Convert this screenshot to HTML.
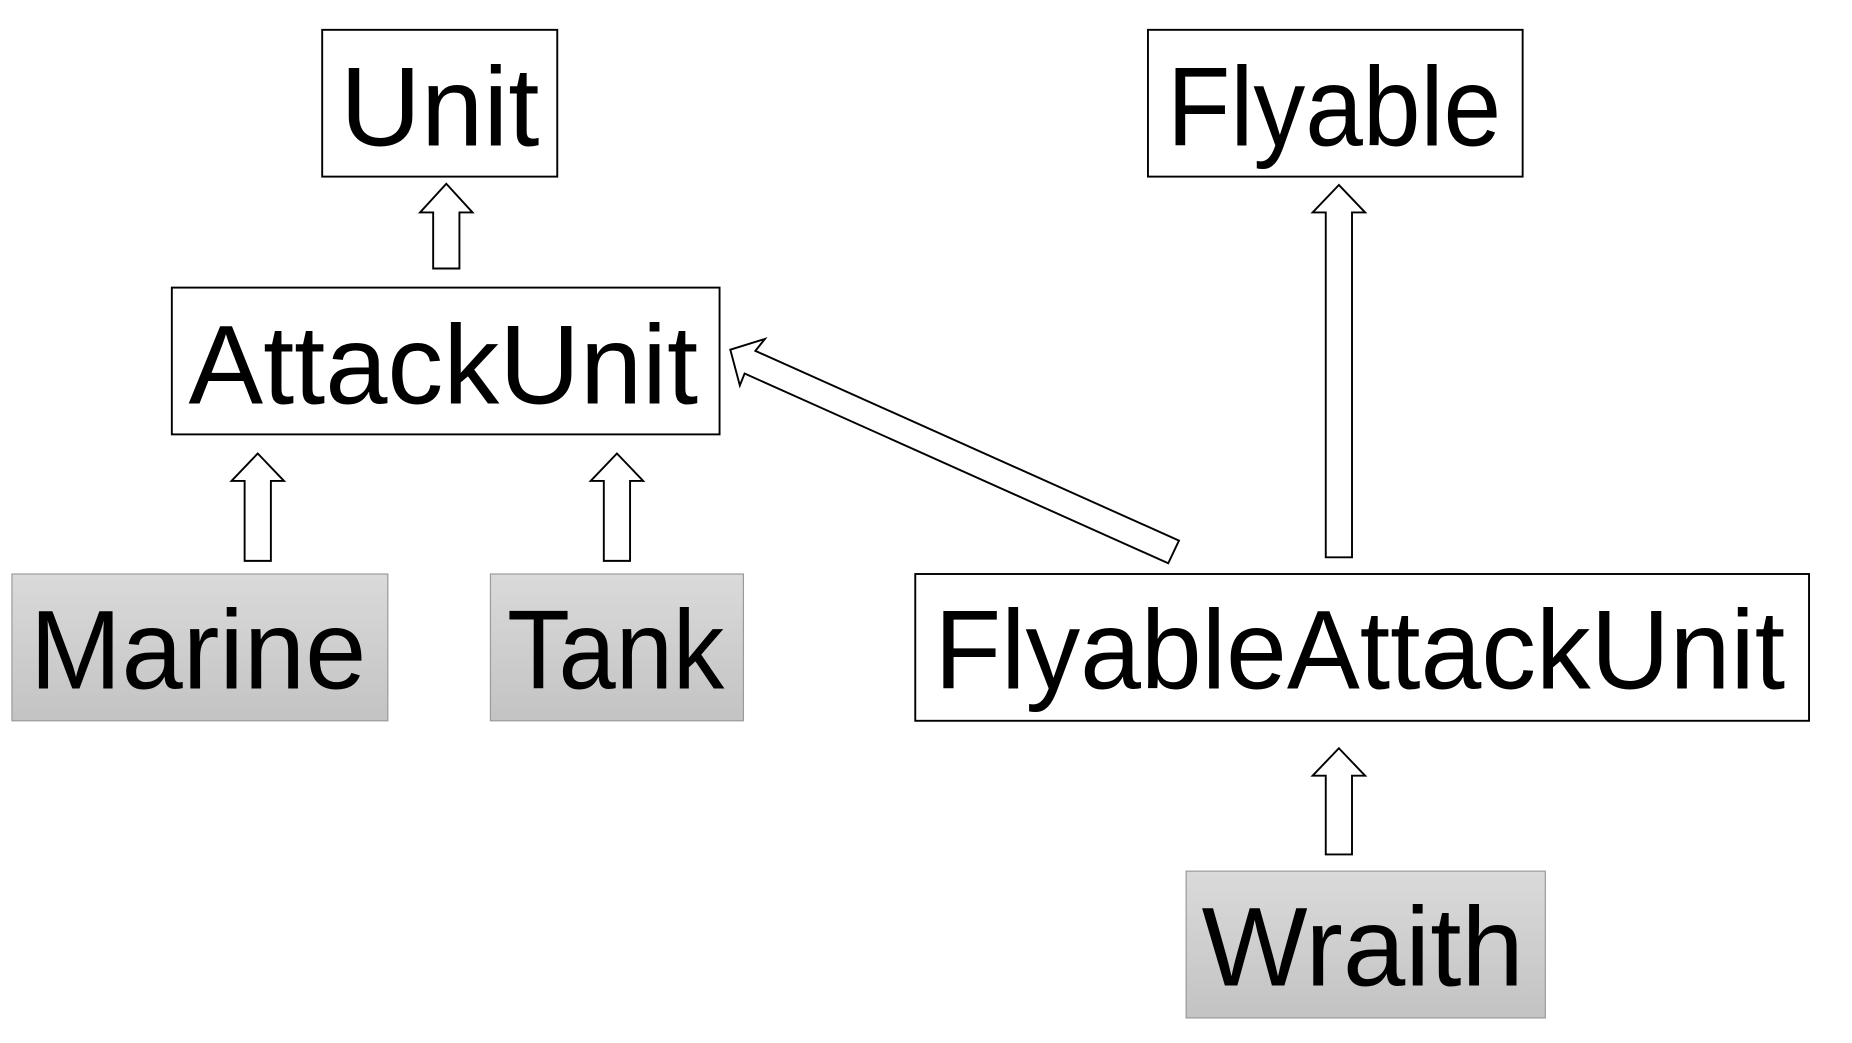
<!DOCTYPE html>
<html><head><meta charset="utf-8"><style>
html,body{margin:0;padding:0;background:#fff;}
svg{display:block;}
text{font-family:"Liberation Sans","DejaVu Sans",sans-serif;font-size:94px;fill:#000;}
</style></head><body>
<svg width="1852" height="1043" viewBox="0 0 1552 874" preserveAspectRatio="none" xmlns="http://www.w3.org/2000/svg">
<defs>
<linearGradient id="g" x1="0" y1="0" x2="0" y2="1">
<stop offset="0" stop-color="#dadada"/><stop offset="1" stop-color="#c3c3c3"/>
</linearGradient>
</defs>
<g fill="#fff" stroke="#000" stroke-width="1.6">
<rect x="270" y="25" width="197" height="123"/>
<rect x="962" y="25" width="314" height="123"/>
<rect x="144" y="241" width="459" height="123"/>
<rect x="767" y="481" width="749" height="123"/>
</g>
<g fill="url(#g)" stroke="#9a9a9a" stroke-width="1">
<rect x="10" y="481" width="315" height="123"/>
<rect x="411" y="481" width="212" height="123"/>
<rect x="994" y="730" width="301" height="123"/>
</g>
<text x="285" y="122" textLength="167" lengthAdjust="spacingAndGlyphs">Unit</text>
<text x="978" y="122" textLength="280" lengthAdjust="spacingAndGlyphs">Flyable</text>
<text x="158" y="338" textLength="427" lengthAdjust="spacingAndGlyphs">AttackUnit</text>
<text x="25" y="577" textLength="282" lengthAdjust="spacingAndGlyphs">Marine</text>
<text x="425" y="577" textLength="182" lengthAdjust="spacingAndGlyphs">Tank</text>
<text x="783" y="577" textLength="713" lengthAdjust="spacingAndGlyphs">FlyableAttackUnit</text>
<text x="1007" y="826" textLength="270" lengthAdjust="spacingAndGlyphs">Wraith</text>
<g fill="#fff" stroke="#000" stroke-width="1.6" stroke-linejoin="miter">
<polygon points="374,154 396,178 385,178 385,225 363,225 363,178 352,178"/>
<polygon points="1122,155 1144,178 1133,178 1133,467 1111,467 1111,178 1100,178"/>
<polygon points="216,380 238,403 227,403 227,470 205,470 205,403 194,403"/>
<polygon points="517,380 539,403 528,403 528,470 506,470 506,403 495,403"/>
<polygon points="1122,627 1144,650 1133,650 1133,716 1111,716 1111,650 1100,650"/>
<polygon points="612,293 641,284 633,294 988,453 979,472 624,313 620,323"/>
</g>
</svg>
</body></html>
